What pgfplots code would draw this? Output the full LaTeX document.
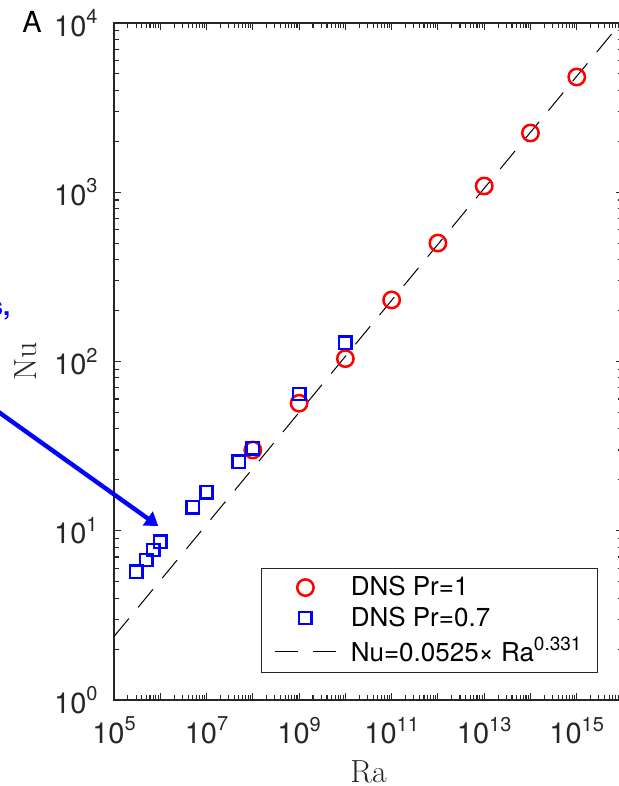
\documentclass[border=0pt]{standalone}
\usepackage[no-math]{fontspec}
\setmainfont{TeX Gyre Heros}
\usepackage{pgfplots}
\pgfplotsset{compat=1.18}
\usetikzlibrary{arrows.meta}
\definecolor{axisgray}{RGB}{38,38,38}
% power-of-ten tick label in the text font
\newcommand{\pw}[1]{10\raisebox{6.3pt}{\fontsize{10}{12}\selectfont #1}}

\begin{document}
\begin{tikzpicture}
\path[use as bounding box] (-57pt,-43pt) rectangle (252.5pt,350pt);
\clip (-57pt,-43pt) rectangle (252.5pt,350pt);
\begin{loglogaxis}[
  at={(0pt,0pt)}, anchor=south west,
  scale only axis, width=254.5pt, height=338.5pt,
  xmin=1e5, xmax=1e16, ymin=1, ymax=1e4,
  xtick={1e5,1e6,1e7,1e8,1e9,1e10,1e11,1e12,1e13,1e14,1e15,1e16},
  xticklabels={\pw{5},,\pw{7},,\pw{9},,\pw{11},,\pw{13},,\pw{15},},
  xminorticks=true, yminorticks=true,
  minor xtick={
    2e5,3e5,4e5,5e5,6e5,7e5,8e5,9e5,
    2e6,3e6,4e6,5e6,6e6,7e6,8e6,9e6,
    2e7,3e7,4e7,5e7,6e7,7e7,8e7,9e7,
    2e8,3e8,4e8,5e8,6e8,7e8,8e8,9e8,
    2e9,3e9,4e9,5e9,6e9,7e9,8e9,9e9,
    2e10,3e10,4e10,5e10,6e10,7e10,8e10,9e10,
    2e11,3e11,4e11,5e11,6e11,7e11,8e11,9e11,
    2e12,3e12,4e12,5e12,6e12,7e12,8e12,9e12,
    2e13,3e13,4e13,5e13,6e13,7e13,8e13,9e13,
    2e14,3e14,4e14,5e14,6e14,7e14,8e14,9e14,
    2e15,3e15,4e15,5e15,6e15,7e15,8e15,9e15},
  ytick={1,10,100,1000,10000},
  yticklabels={\pw{0},\pw{1},\pw{2},\pw{3},\pw{4}},
  minor ytick={
    2,3,4,5,6,7,8,9,
    20,30,40,50,60,70,80,90,
    200,300,400,500,600,700,800,900,
    2000,3000,4000,5000,6000,7000,8000,9000},
  tick label style={font=\fontsize{14.5}{17}\selectfont, text=axisgray, inner sep=0pt},
  xticklabel style={yshift=-8.3pt},
  yticklabel style={xshift=-8pt},
  axis line style={draw=axisgray, line width=0.6pt},
  every tick/.style={draw=axisgray, line width=0.55pt},
  every minor tick/.style={draw=axisgray, line width=0.55pt},
  major tick length=3.5pt, minor tick length=2.4pt,
  xlabel={Ra}, ylabel={Nu},
  every axis x label/.style={at={(axis description cs:0.5,-0.0886)}, anchor=north,
    inner sep=0pt, font=\fontfamily{lmr}\fontsize{16}{19}\selectfont, text=axisgray},
  every axis y label/.style={at={(axis description cs:-0.1965,0.5)}, rotate=90, anchor=north,
    inner sep=0pt, font=\fontfamily{lmr}\fontsize{16}{19}\selectfont, text=axisgray},
  legend style={at={(axis description cs:0.9503,0.0399)}, anchor=south east,
    draw=axisgray, line width=0.5pt, fill=white, inner xsep=6.2pt, inner ysep=1.8pt,
    font=\fontsize{13}{15.6}\selectfont, text=black,
    nodes={inner sep=2pt, text depth=0.15em},
    /tikz/every odd column/.append style={column sep=5.1pt}},
  legend cell align=left,
  legend image code/.code={\draw[mark repeat=2,mark phase=2,#1]
    plot coordinates {(0pt,0pt) (15.35pt,0pt) (30.7pt,0pt)};},
]
% DNS, Pr = 1
\addplot[only marks, mark=o, mark size=4.1pt, red, mark options={line width=1.25pt}] table {
Ra    Nu
1e8   30.0
1e9   56.7
1e10  104
1e11  231
1e12  501
1e13  1089
1e14  2239
1e15  4797
};
\addlegendentry{\makebox[115pt][l]{DNS Pr=1}}
% DNS, Pr = 0.7
\addplot[only marks, mark=square, mark size=3.1pt, blue, mark options={line width=1.25pt}] table {
Ra    Nu
3e5   5.73
5e5   6.72
7e5   7.70
1e6   8.62
5e6   13.8
1e7   16.9
5e7   25.5
1e8   30.8
1e9   64.3
1e10  129
};
\addlegendentry{\makebox[115pt][l]{DNS Pr=0.7}}
% power-law fit Nu = 0.0525 Ra^0.331 (straight on log-log axes)
\addplot[black, line width=0.5pt, dash pattern=on 11.65pt off 7.3pt] table {
Ra    Nu
1e5   2.3723
6e15  8764
};
\addlegendentry{\makebox[115pt][l]{Nu=0.0525× Ra\raisebox{5.6pt}{\fontsize{9.5}{11}\selectfont 0.331}}}
\end{loglogaxis}
\draw[blue, line width=2.2pt, -{Triangle[length=6.5pt,width=8.3pt]}] (-87pt,164.9pt) -- (22.15pt,87pt);
\node[anchor=base east, inner sep=0pt, font=\bfseries\fontsize{13}{15}\selectfont, text=blue] at (-51.6pt,192pt) {s,};
\node[anchor=base west, inner sep=0pt, font=\fontsize{14.5}{17}\selectfont, text=black] at (-46pt,333.5pt) {A};
\end{tikzpicture}
\end{document}
